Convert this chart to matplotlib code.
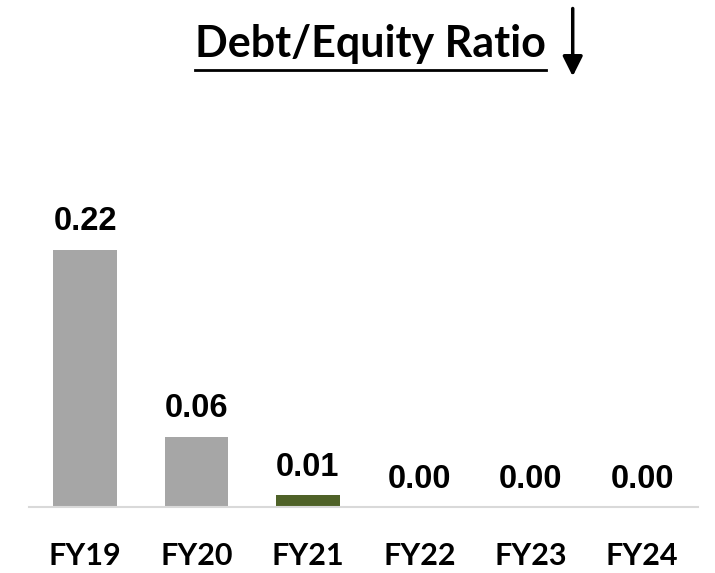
import matplotlib
matplotlib.use('Agg')
import matplotlib.pyplot as plt
from matplotlib.lines import Line2D

# ── Data ──────────────────────────────────────────────────────────────────────
years = ['FY19', 'FY20', 'FY21', 'FY22', 'FY23', 'FY24']
ratios = [0.22, 0.06, 0.01, 0.00, 0.00, 0.00]
highlight = 'FY21'

GRAY = '#a6a6a6'
GREEN = '#4f6228'

fig = plt.figure(figsize=(7.15, 5.73), dpi=100)
ax = fig.add_axes([0.041, 0.115, 0.935, 0.57])

colors = [GREEN if y == highlight else GRAY for y in years]
x = range(len(years))
ax.bar(x, ratios, width=0.57, color=colors)

for xi, v in zip(x, ratios):
    ax.annotate(f'{v:.2f}', xy=(xi, v), xytext=(0, 14), textcoords='offset points',
                ha='center', va='baseline', fontsize=23.5, fontweight='bold',
                family='Liberation Sans')

ax.set_xlim(-0.5, len(years) - 0.5)
ax.set_ylim(0, 0.279)
ax.set_yticks([])
ax.set_xticks(list(x))
ax.set_xticklabels(years, fontsize=22, fontweight='bold', family='Lato')
ax.tick_params(axis='x', length=0, pad=25)
for side in ('left', 'right', 'top'):
    ax.spines[side].set_visible(False)
ax.spines['bottom'].set_color('#d9d9d9')
ax.spines['bottom'].set_linewidth(1.5)

# ── Title with underline and down arrow ──────────────────────────────────────
title = fig.text(0.518, 0.90, 'Debt/Equity Ratio', ha='center', va='baseline',
                 fontsize=31, fontweight='bold', family='Lato')
renderer = fig.canvas.get_renderer()
bb = title.get_window_extent(renderer).transformed(fig.transFigure.inverted())
fig.add_artist(Line2D([bb.x0, bb.x1], [0.878, 0.878], transform=fig.transFigure,
                      color='black', lw=2))

fig.add_artist(matplotlib.patches.FancyArrowPatch(
    (0.801, 0.99), (0.801, 0.862), transform=fig.transFigure,
    arrowstyle='-|>,head_length=0.6,head_width=0.3', mutation_scale=20,
    color='black', lw=2.5))

plt.savefig('out.png', dpi=100)
